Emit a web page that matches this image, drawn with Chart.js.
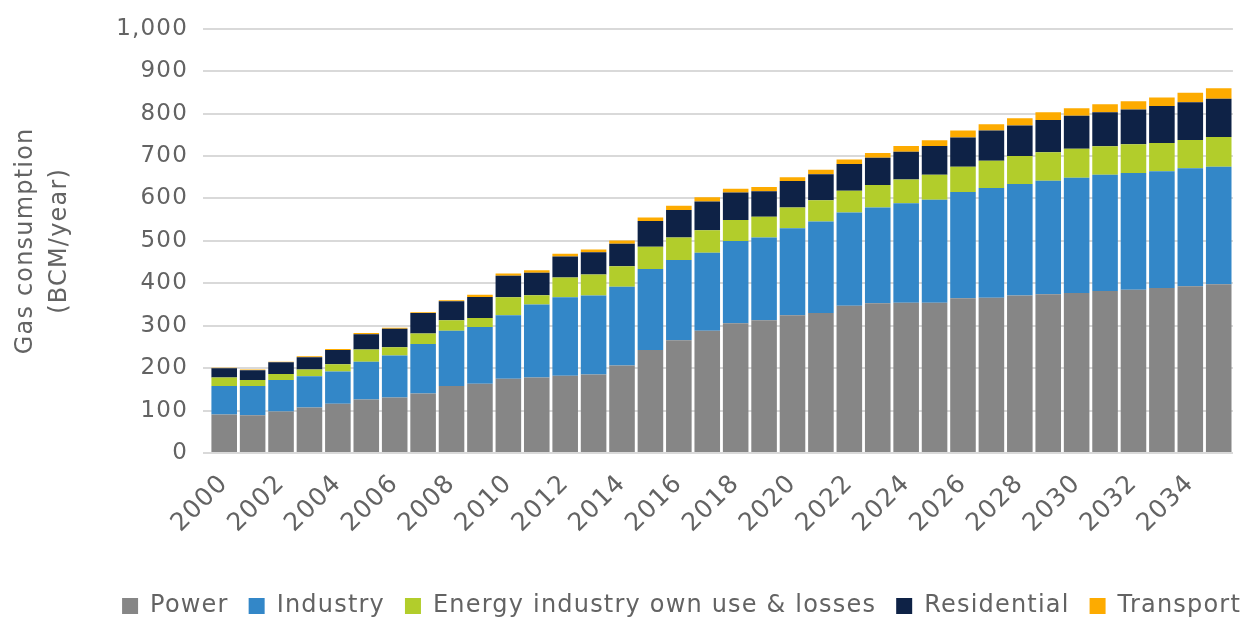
<!DOCTYPE html>
<html>
<head>
<meta charset="utf-8">
<script src="https://cdn.jsdelivr.net/npm/chart.js@4.4.1/dist/chart.umd.min.js"></script>
<style>
  html, body { margin: 0; padding: 0; background: #fff; }
  #wrap { width: 1248px; height: 619px; position: relative; }
</style>
</head>
<body>
<div id="wrap"><canvas id="gas-chart" width="1248" height="619"></canvas></div>
<script>
const years = [];
for (let y = 2000; y <= 2035; y++) years.push(String(y));

const power = [91, 89, 98, 107, 116, 126, 131, 140, 158, 163, 175, 178, 182, 185, 206, 243, 266, 288,
    306, 313, 325, 330, 347, 353, 354, 354, 365, 366, 371, 374, 377, 382, 385, 389, 393, 398];
const industry = [67, 69, 74, 74, 76, 89, 99, 117, 130, 134, 150, 172, 185, 186, 186, 191, 189, 184,
    194, 195, 205, 216, 220, 226, 235, 243, 250, 259, 263, 268, 272, 274, 275, 275, 278, 277];
const ownUse = [20, 14, 14, 16, 17, 29, 19, 25, 25, 21, 42, 22, 47, 50, 48, 52, 53, 53,
    49, 49, 49, 50, 51, 53, 56, 59, 60, 64, 66, 67, 68, 67, 68, 67, 67, 70];
const residential = [22, 23, 28, 29, 34, 36, 44, 48, 45, 50, 51, 53, 49, 52, 53, 61, 65, 68,
    65, 60, 62, 61, 63, 64, 65, 68, 69, 71, 72, 76, 78, 80, 82, 87, 89, 90];
const transport = [1, 2, 1, 2, 2, 3, 2, 2, 2, 5, 5, 6, 7, 7, 8, 8, 10, 10,
    9, 10, 9, 11, 11, 11, 14, 13, 16, 15, 17, 18, 18, 19, 19, 20, 22, 25];

const seriesNames = ["Power", "Industry", "Energy industry own use & losses", "Residential", "Transport"];
const seriesColors = ["#868686", "#3387c8", "#b2cd2b", "#0e2246", "#fdab00"];
const seriesData = [power, industry, ownUse, residential, transport];

const fontFamily = "'DejaVu Sans', sans-serif";
const textColor = "#636363";

// the original font is wide, so space the letters out a little
const spacing = {
    id: 'spacing',
    beforeUpdate(chart) { chart.ctx.letterSpacing = '1.2px'; },
    beforeDraw(chart) { chart.ctx.letterSpacing = '1.2px'; }
};

// push the legend down and to the right edge, like the original
const legendShift = {
    id: 'legendShift',
    afterLayout(chart) {
        const l = chart.legend;
        l.top += 9; l.bottom += 9;
        l.left += 18; l.right += 18;
    }
};

const datasets = seriesData.map((d, i) => ({
    label: seriesNames[i],
    data: d,
    backgroundColor: seriesColors[i],
    borderWidth: 0,
    barPercentage: 0.9,
    categoryPercentage: 1.0
}));

const ctx = document.getElementById('gas-chart');

const chart = new Chart(ctx, {
    type: 'bar',
    data: {
        labels: years,
        datasets: datasets
    },
    plugins: [spacing, legendShift],
    options: {
        responsive: false,
        animation: false,
        layout: {
            padding: { left: 0, right: 5, top: 24, bottom: 0 }
        },
        scales: {
            x: {
                stacked: true,
                grid: { display: false },
                border: { color: "#d9d9d9", width: 2 },
                afterFit: (scale) => { scale.height = 112; },
                ticks: {
                    autoSkip: false,
                    maxRotation: 45,
                    minRotation: 45,
                    padding: 8,
                    color: textColor,
                    font: { family: fontFamily, size: 25 },
                    callback: function (value, index) {
                        return index % 2 === 0 ? years[index] : '';
                    }
                }
            },
            y: {
                stacked: true,
                min: 0,
                max: 1000,
                grid: { color: "#d9d9d9", lineWidth: 2, tickLength: 7 },
                border: { display: false },
                afterFit: (scale) => { scale.width = 210; },
                ticks: {
                    stepSize: 100,
                    padding: 15,
                    color: textColor,
                    font: { family: fontFamily, size: 23 },
                    callback: function (value) {
                        return value.toLocaleString('en-US');
                    }
                },
                title: {
                    display: true,
                    text: ["Gas consumption", "(BCM/year)"],
                    color: textColor,
                    font: { family: fontFamily, size: 24, lineHeight: 1.4 },
                    padding: { top: 9, bottom: 0 }
                }
            }
        },
        plugins: {
            legend: {
                position: 'bottom',
                align: 'end',
                labels: {
                    color: textColor,
                    font: { family: fontFamily, size: 24, lineHeight: 1.0 },
                    boxWidth: 16,
                    boxHeight: 16,
                    padding: 20
                }
            },
            tooltip: { enabled: false }
        }
    }
});
</script>
</body>
</html>
